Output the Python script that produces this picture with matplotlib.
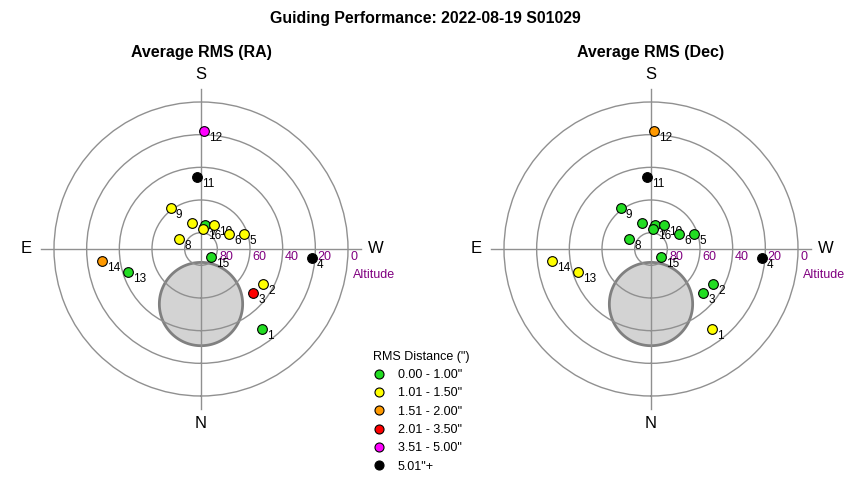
import matplotlib
matplotlib.use("Agg")
import matplotlib.pyplot as plt
from matplotlib.lines import Line2D
import numpy as np

plt.rcParams["font.family"] = ["Liberation Sans", "DejaVu Sans"]

TITLE = "Guiding Performance: 2022-08-19 S01029"

# guide star positions (azimuth from N through E, altitude in deg)
point_ids = list(range(1, 18))
azimuth = [322.6, 299.5, 310.3, 274.8, 250.9, 241.8, 189.6, 114.1, 143.3,
           208.7, 176.6, 181.6, 72.7, 83.3, 310.6, 186.7, 160.5]
altitude = [28.2, 46.2, 48.1, 22.0, 62.0, 70.6, 75.3, 75.4, 58.9,
            73.4, 46.0, 17.5, 43.4, 29.0, 82.2, 77.9, 72.9]

# RMS bucket index per point (see rms_labels)
ra_rms_bucket = [0, 1, 3, 5, 1, 1, 0, 1, 1, 1, 5, 4, 0, 2, 0, 1, 1]
dec_rms_bucket = [1, 0, 0, 5, 0, 0, 0, 0, 0, 0, 5, 2, 1, 1, 0, 0, 0]

rms_labels = ['0.00 - 1.00"', '1.01 - 1.50"', '1.51 - 2.00"',
              '2.01 - 3.50"', '3.51 - 5.00"', '5.01"+']
rms_colors = ["#22dd22", "#ffff00", "#ff9900", "#ff0000", "#ff00ff", "#000000"]

alt_rings = [80, 60, 40, 20]
alt_tick_labels = ["80", "60", "40", "20", "0"]

# shaded exclusion zone (centre az/alt, radius in deg)
zone_az, zone_alt, zone_radius = 0.0, 56.3, 25.5

GRID = "#909090"
PURPLE = "#800080"


def draw_sky(ax, buckets):
    ax.set_theta_zero_location("S")
    ax.set_theta_direction(-1)
    ax.set_rlim(0, 90)
    ax.set_xticks([])
    ax.set_yticks([90 - a for a in alt_rings])
    ax.set_yticklabels([])
    ax.grid(True, color=GRID, lw=1)
    ax.spines["polar"].set_color(GRID)
    ax.spines["polar"].set_linewidth(1)
    ax.set_facecolor("white")

    # cross through zenith
    for th in (0, 90):
        t = np.radians(th)
        ax.plot([t, t + np.pi], [98, 98], color=GRID, lw=1, zorder=1.6, clip_on=False)

    # exclusion zone
    zc = 90 - zone_alt
    cx = -zc * np.sin(np.radians(zone_az))
    cy = -zc * np.cos(np.radians(zone_az))
    phi = np.linspace(0, 2 * np.pi, 200)
    xs = cx + zone_radius * np.cos(phi)
    ys = cy + zone_radius * np.sin(phi)
    ax.fill(np.arctan2(-xs, -ys), np.hypot(xs, ys), facecolor="#d3d3d3",
            edgecolor="#808080", lw=2, zorder=1)

    # compass letters
    for th, lab in [(180, "S"), (0, "N"), (90, "E"), (270, "W")]:
        ax.text(np.radians(th), 107, lab, ha="center", va="center",
                fontsize=12, clip_on=False)

    # altitude labels along W axis
    for i, lab in enumerate(alt_tick_labels):
        r = 90 - (alt_rings + [0])[i]
        ax.annotate(lab, xy=(np.radians(270), r), xytext=(1.5, -6),
                    textcoords="offset points", ha="left", va="center",
                    fontsize=9, color=PURPLE, annotation_clip=False)
    ax.annotate("Altitude", xy=(np.radians(270), 90), xytext=(3.5, -19),
                textcoords="offset points", ha="left", va="center",
                fontsize=9, color=PURPLE, annotation_clip=False)

    th = np.radians(azimuth)
    r = 90 - np.array(altitude)
    for i, pid in enumerate(point_ids):
        ax.annotate(str(pid), xy=(th[i], r[i]), xytext=(3.6, -5),
                    textcoords="offset points", ha="left", va="center",
                    fontsize=8.5, zorder=3)
        ax.plot(th[i], r[i], "o", ms=7, mfc=rms_colors[buckets[i]],
                mec="black", mew=0.8, zorder=4, clip_on=False)


fig = plt.figure(figsize=(8.5, 4.8), dpi=100)
fig.text(0.5, 1 - 19 / 480, TITLE, ha="center", va="center",
         fontsize=11.4, fontweight="bold")

ax1 = fig.add_axes([54 / 850, 1 - 396 / 480, 294 / 850, 294 / 480], projection="polar")
ax2 = fig.add_axes([504 / 850, 1 - 396 / 480, 294 / 850, 294 / 480], projection="polar")
draw_sky(ax1, ra_rms_bucket)
draw_sky(ax2, dec_rms_bucket)
fig.text(201 / 850, 1 - 53 / 480, "Average RMS (RA)", ha="center", va="center",
         fontsize=11.5, fontweight="bold")
fig.text(651 / 850, 1 - 53 / 480, "Average RMS (Dec)", ha="center", va="center",
         fontsize=11.5, fontweight="bold")

handles = [Line2D([], [], ls="none", marker="o", ms=6.5, mfc=c, mec="black", mew=0.8)
           for c in rms_colors]
fig.legend(handles, rms_labels, title='RMS Distance (")', loc="upper left",
           bbox_to_anchor=(373 / 850, 1 - 351 / 480), frameon=False,
           fontsize=9, title_fontsize=9, alignment="left", borderpad=0,
           borderaxespad=0, handlelength=1.0, handletextpad=1.0,
           labelspacing=0.5)

fig.savefig("out.png", dpi=100)
